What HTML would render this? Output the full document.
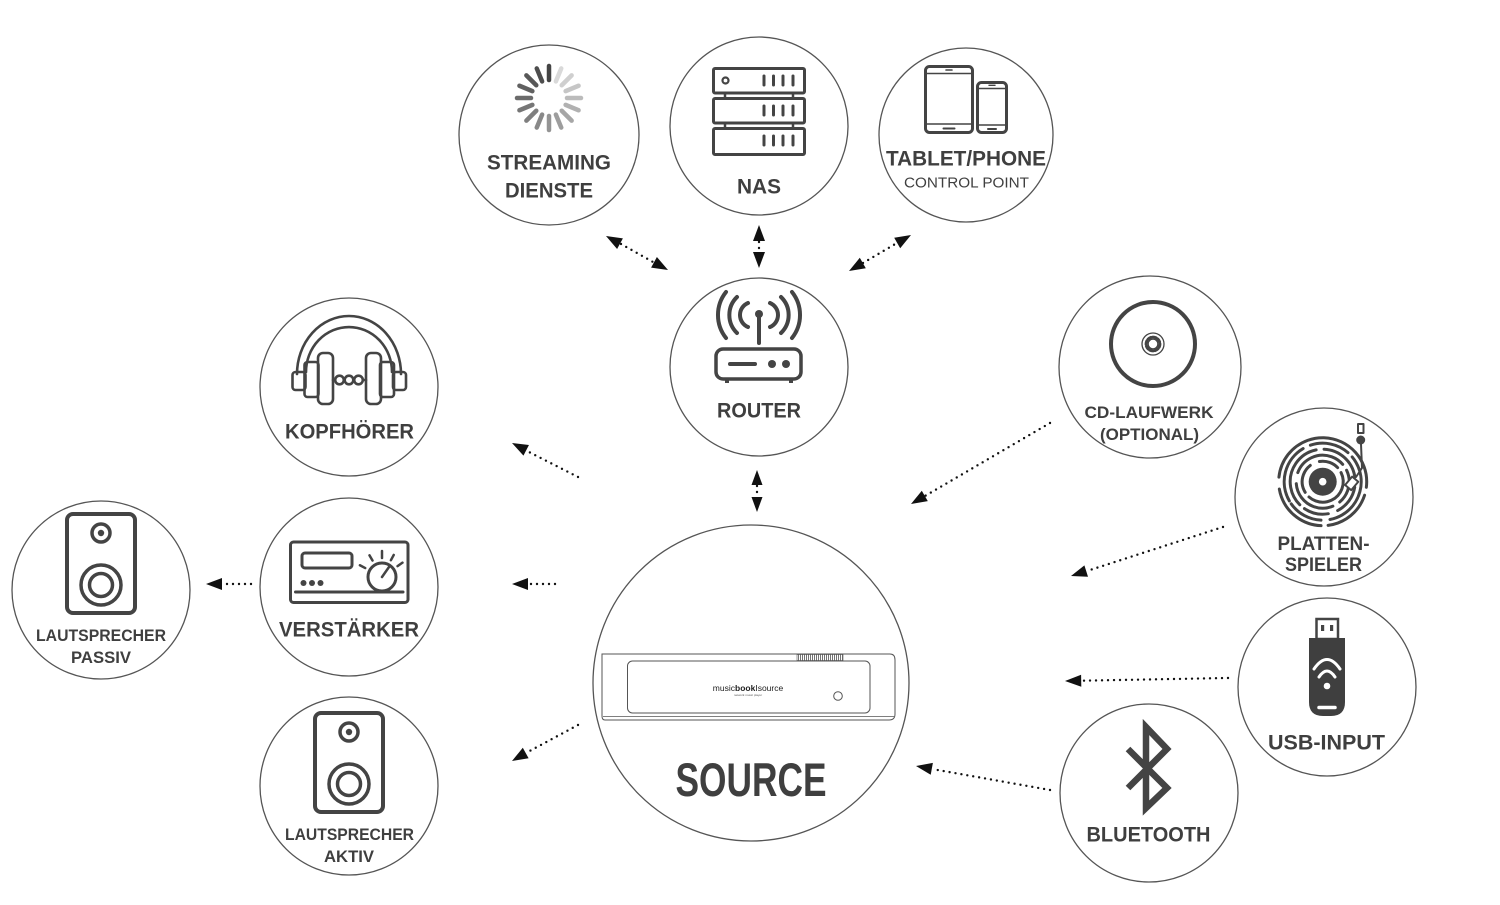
<!DOCTYPE html>
<html>
<head>
<meta charset="utf-8">
<style>
  html,body{margin:0;padding:0;background:#fff;}
  body{width:1500px;height:905px;overflow:hidden;}
  svg{display:block;}
  .lbl{font-family:"Liberation Sans",Arial,sans-serif;font-weight:bold;fill:#3f3f3f;text-anchor:middle;}
  .reg{font-family:"Liberation Sans",Arial,sans-serif;font-weight:normal;fill:#3f3f3f;text-anchor:middle;}
  .ring{fill:none;stroke:#555;stroke-width:1.3;}
  .ic{fill:none;stroke:#444;stroke-linecap:round;stroke-linejoin:round;}
  .dot{fill:none;stroke:#111;stroke-width:2.4;stroke-dasharray:0 6;stroke-linecap:round;}
  .ah{fill:#111;}
</style>
</head>
<body>
<svg width="1500" height="905" viewBox="0 0 1500 905" xmlns="http://www.w3.org/2000/svg">
  <defs>
    <pattern id="grille" width="2" height="8" patternUnits="userSpaceOnUse">
      <rect x="0" y="0" width="0.9" height="8" fill="#666"/>
    </pattern>
  </defs>

  <!-- ===== RINGS ===== -->
  <circle class="ring" cx="549" cy="135" r="90"/>
  <circle class="ring" cx="759" cy="126" r="89"/>
  <circle class="ring" cx="966" cy="135" r="87"/>
  <circle class="ring" cx="759" cy="367" r="89"/>
  <circle class="ring" cx="349" cy="387" r="89"/>
  <circle class="ring" cx="349" cy="587" r="89"/>
  <circle class="ring" cx="101" cy="590" r="89"/>
  <circle class="ring" cx="349" cy="786" r="89"/>
  <circle class="ring" cx="751" cy="683" r="158"/>
  <circle class="ring" cx="1150" cy="367" r="91"/>
  <circle class="ring" cx="1324" cy="497" r="89"/>
  <circle class="ring" cx="1327" cy="687" r="89"/>
  <circle class="ring" cx="1149" cy="793" r="89"/>

  <!-- ===== STREAMING spinner ===== -->
  <g transform="translate(549,98)" stroke="#444" stroke-width="4.5" stroke-linecap="round">
    <line x1="0" y1="-18" x2="0" y2="-32" transform="rotate(0)" opacity="1"/>
    <line x1="0" y1="-18" x2="0" y2="-32" transform="rotate(22.5)" opacity="0.2"/>
    <line x1="0" y1="-18" x2="0" y2="-32" transform="rotate(45)" opacity="0.25"/>
    <line x1="0" y1="-18" x2="0" y2="-32" transform="rotate(67.5)" opacity="0.3"/>
    <line x1="0" y1="-18" x2="0" y2="-32" transform="rotate(90)" opacity="0.36"/>
    <line x1="0" y1="-18" x2="0" y2="-32" transform="rotate(112.5)" opacity="0.41"/>
    <line x1="0" y1="-18" x2="0" y2="-32" transform="rotate(135)" opacity="0.47"/>
    <line x1="0" y1="-18" x2="0" y2="-32" transform="rotate(157.5)" opacity="0.52"/>
    <line x1="0" y1="-18" x2="0" y2="-32" transform="rotate(180)" opacity="0.57"/>
    <line x1="0" y1="-18" x2="0" y2="-32" transform="rotate(202.5)" opacity="0.63"/>
    <line x1="0" y1="-18" x2="0" y2="-32" transform="rotate(225)" opacity="0.68"/>
    <line x1="0" y1="-18" x2="0" y2="-32" transform="rotate(247.5)" opacity="0.73"/>
    <line x1="0" y1="-18" x2="0" y2="-32" transform="rotate(270)" opacity="0.79"/>
    <line x1="0" y1="-18" x2="0" y2="-32" transform="rotate(292.5)" opacity="0.84"/>
    <line x1="0" y1="-18" x2="0" y2="-32" transform="rotate(315)" opacity="0.89"/>
    <line x1="0" y1="-18" x2="0" y2="-32" transform="rotate(337.5)" opacity="0.95"/>
  </g>
  <text class="lbl" x="549" y="169.5" font-size="21" textLength="124" lengthAdjust="spacingAndGlyphs">STREAMING</text>
  <text class="lbl" x="549" y="197.5" font-size="21" textLength="88" lengthAdjust="spacingAndGlyphs">DIENSTE</text>

  <!-- ===== NAS ===== -->
  <g class="ic" stroke-width="3">
    <rect x="713.5" y="68.5" width="91" height="24.5" rx="1.5"/>
    <rect x="713.5" y="98.5" width="91" height="24.5" rx="1.5"/>
    <rect x="713.5" y="128.5" width="91" height="26" rx="1.5"/>
    <line x1="725" y1="93" x2="725" y2="98" stroke-width="2.5"/>
    <line x1="793" y1="93" x2="793" y2="98" stroke-width="2.5"/>
    <line x1="725" y1="123" x2="725" y2="128" stroke-width="2.5"/>
    <line x1="793" y1="123" x2="793" y2="128" stroke-width="2.5"/>
    <circle cx="725.5" cy="80.5" r="3" stroke-width="2.2"/>
    <line x1="764" y1="76" x2="764" y2="85"/><line x1="773.5" y1="76" x2="773.5" y2="85"/>
    <line x1="783" y1="76" x2="783" y2="85"/><line x1="793" y1="76" x2="793" y2="85"/>
    <line x1="764" y1="106" x2="764" y2="115"/><line x1="773.5" y1="106" x2="773.5" y2="115"/>
    <line x1="783" y1="106" x2="783" y2="115"/><line x1="793" y1="106" x2="793" y2="115"/>
    <line x1="764" y1="136" x2="764" y2="145"/><line x1="773.5" y1="136" x2="773.5" y2="145"/>
    <line x1="783" y1="136" x2="783" y2="145"/><line x1="793" y1="136" x2="793" y2="145"/>
  </g>
  <text class="lbl" x="759" y="193.5" font-size="21" textLength="44" lengthAdjust="spacingAndGlyphs">NAS</text>

  <!-- ===== TABLET/PHONE ===== -->
  <g class="ic" stroke-width="3">
    <rect x="925.5" y="66.5" width="47" height="66" rx="4"/>
    <line x1="927" y1="73.5" x2="971" y2="73.5" stroke-width="1.4"/>
    <line x1="927" y1="124" x2="971" y2="124" stroke-width="1.4"/>
    <line x1="946" y1="70" x2="952" y2="70" stroke-width="1.6"/>
    <line x1="943.5" y1="128.5" x2="954.5" y2="128.5" stroke-width="2"/>
    <rect x="977.5" y="82.5" width="29" height="50" rx="4"/>
    <line x1="979" y1="88.5" x2="1005" y2="88.5" stroke-width="1.4"/>
    <line x1="979" y1="125" x2="1005" y2="125" stroke-width="1.4"/>
    <line x1="989" y1="85.3" x2="995" y2="85.3" stroke-width="1.4"/>
    <line x1="988" y1="129" x2="996" y2="129" stroke-width="2"/>
  </g>
  <text class="lbl" x="966" y="165.5" font-size="21" textLength="160" lengthAdjust="spacingAndGlyphs">TABLET/PHONE</text>
  <text class="reg" x="966.5" y="187.5" font-size="15" textLength="125" lengthAdjust="spacingAndGlyphs">CONTROL POINT</text>

  <!-- ===== ROUTER ===== -->
  <g class="ic" stroke-width="4">
    <circle cx="759" cy="314" r="4" fill="#444" stroke="none"/>
    <line x1="759" y1="316" x2="759" y2="343"/>
    <path d="M748,303 A13,13 0 0,0 748,327"/>
    <path d="M770,303 A13,13 0 0,1 770,327"/>
    <path d="M737,297 A25,25 0 0,0 737,333"/>
    <path d="M781,297 A25,25 0 0,1 781,333"/>
    <path d="M726,292 A37,37 0 0,0 726,338"/>
    <path d="M792,292 A37,37 0 0,1 792,338"/>
    <rect x="716" y="349" width="85" height="30" rx="7" stroke-width="3.5"/>
    <line x1="730" y1="364" x2="755" y2="364"/>
    <circle cx="772" cy="364" r="4" fill="#444" stroke="none"/>
    <circle cx="786" cy="364" r="4" fill="#444" stroke="none"/>
    <rect x="725" y="379" width="4" height="4" fill="#444" stroke="none"/>
    <rect x="789" y="379" width="4" height="4" fill="#444" stroke="none"/>
  </g>
  <text class="lbl" x="759" y="417.5" font-size="21" textLength="84" lengthAdjust="spacingAndGlyphs">ROUTER</text>

  <!-- ===== KOPFHÖRER ===== -->
  <g class="ic" stroke-width="2.6" fill="#fff">
    <path d="M297,374 A52,58 0 0,1 401,374" fill="none"/>
    <path d="M306,372 A43,45 0 0,1 392,372" fill="none"/>
    <rect x="292.5" y="372" width="13" height="18" rx="3"/>
    <rect x="304.5" y="362" width="14" height="35" rx="3"/>
    <rect x="318" y="353" width="15" height="51" rx="5"/>
    <rect x="393" y="372" width="13" height="18" rx="3"/>
    <rect x="380" y="362" width="14" height="35" rx="3"/>
    <rect x="366" y="353" width="15" height="51" rx="5"/>
    <line x1="333" y1="380" x2="335" y2="380"/>
    <line x1="363" y1="380" x2="366" y2="380"/>
    <circle cx="339.5" cy="380" r="4.3"/>
    <circle cx="349" cy="380" r="4.3"/>
    <circle cx="358.5" cy="380" r="4.3"/>
  </g>
  <text class="lbl" x="349.5" y="438.5" font-size="21" textLength="129" lengthAdjust="spacingAndGlyphs">KOPFHÖRER</text>

  <!-- ===== VERSTÄRKER ===== -->
  <g class="ic" stroke-width="3">
    <rect x="290.5" y="542" width="117.5" height="60.5" rx="3"/>
    <rect x="302" y="553" width="50" height="15" rx="3"/>
    <circle cx="303.5" cy="583" r="3" fill="#444" stroke="none"/>
    <circle cx="312" cy="583" r="3" fill="#444" stroke="none"/>
    <circle cx="320.5" cy="583" r="3" fill="#444" stroke="none"/>
    <line x1="295.5" y1="592" x2="403" y2="592"/>
    <circle cx="382" cy="577" r="14"/>
    <line x1="382" y1="577" x2="389" y2="567" stroke-width="2.5"/>
    <g transform="translate(382,577)" stroke-width="2.5">
      <line x1="0" y1="-19" x2="0" y2="-25" transform="rotate(-62)"/>
      <line x1="0" y1="-19" x2="0" y2="-25" transform="rotate(-30)"/>
      <line x1="0" y1="-19" x2="0" y2="-26" transform="rotate(0)"/>
      <line x1="0" y1="-19" x2="0" y2="-25" transform="rotate(28)"/>
      <line x1="0" y1="-19" x2="0" y2="-25" transform="rotate(55)"/>
    </g>
  </g>
  <text class="lbl" x="349" y="636.5" font-size="21" textLength="140" lengthAdjust="spacingAndGlyphs">VERSTÄRKER</text>

  <!-- ===== LAUTSPRECHER PASSIV ===== -->
  <g class="ic" stroke-width="4">
    <rect x="67" y="514" width="68" height="99" rx="6"/>
    <circle cx="101" cy="533" r="9" stroke-width="3.5"/>
    <circle cx="101" cy="533" r="3.2" fill="#444" stroke="none"/>
    <circle cx="101" cy="585" r="20" stroke-width="3.5"/>
    <circle cx="101" cy="585" r="11.5" stroke-width="3.5"/>
  </g>
  <text class="lbl" x="101" y="641" font-size="17" textLength="130" lengthAdjust="spacingAndGlyphs">LAUTSPRECHER</text>
  <text class="lbl" x="101" y="663" font-size="17" textLength="60" lengthAdjust="spacingAndGlyphs">PASSIV</text>

  <!-- ===== LAUTSPRECHER AKTIV ===== -->
  <g class="ic" stroke-width="4">
    <rect x="315" y="713" width="68" height="99" rx="6"/>
    <circle cx="349" cy="732" r="9" stroke-width="3.5"/>
    <circle cx="349" cy="732" r="3.2" fill="#444" stroke="none"/>
    <circle cx="349" cy="784" r="20" stroke-width="3.5"/>
    <circle cx="349" cy="784" r="11.5" stroke-width="3.5"/>
  </g>
  <text class="lbl" x="349.5" y="840" font-size="17" textLength="129" lengthAdjust="spacingAndGlyphs">LAUTSPRECHER</text>
  <text class="lbl" x="349" y="862" font-size="17" textLength="50" lengthAdjust="spacingAndGlyphs">AKTIV</text>

  <!-- ===== SOURCE device ===== -->
  <g fill="none" stroke="#555" stroke-width="1">
    <path d="M602,654 L890,654 Q895,654 895,660 L895,714 Q895,720 889,720 L605,720 Q602,720 602,716 Z"/>
    <line x1="603" y1="716.5" x2="894" y2="716.5" stroke-width="0.7"/>
    <rect x="627.5" y="661" width="242.5" height="52" rx="5"/>
    <rect x="797" y="654.5" width="46" height="6" fill="url(#grille)" stroke-width="0.6"/>
    <circle cx="838" cy="696" r="4.3"/>
  </g>
  <text x="748" y="691" font-family="Liberation Sans, Arial, sans-serif" font-size="8.5" fill="#222" text-anchor="middle">music<tspan font-weight="bold">book</tspan>I<tspan>source</tspan></text>
  <text x="748" y="696" font-family="Liberation Sans, Arial, sans-serif" font-size="3" fill="#555" text-anchor="middle">network music player</text>
  <text class="lbl" x="751" y="796" font-size="47" textLength="151" lengthAdjust="spacingAndGlyphs">SOURCE</text>

  <!-- ===== CD-LAUFWERK ===== -->
  <g class="ic">
    <circle cx="1153" cy="344" r="42" stroke-width="4"/>
    <circle cx="1153" cy="344" r="11" stroke-width="1.3"/>
    <circle cx="1153" cy="344" r="6.8" stroke-width="3.2" stroke-dasharray="3.2 2.1"/>
    <circle cx="1153" cy="344" r="4.8" stroke-width="1.2"/>
  </g>
  <text class="lbl" x="1149" y="418" font-size="17" textLength="129" lengthAdjust="spacingAndGlyphs">CD-LAUFWERK</text>
  <text class="lbl" x="1149.5" y="440" font-size="17" textLength="99" lengthAdjust="spacingAndGlyphs">(OPTIONAL)</text>

  <!-- ===== PLATTENSPIELER ===== -->
  <g class="ic" stroke-width="3" stroke-linecap="butt">
    <circle cx="1322.7" cy="481.7" r="14" fill="#444" stroke="none"/>
    <circle cx="1322.7" cy="481.7" r="3.8" fill="#fff" stroke="none"/>
    <circle cx="1322.7" cy="481.7" r="20.5" stroke-dasharray="40 6 30 10 20 6" transform="rotate(20 1322.7 481.7)"/>
    <circle cx="1322.7" cy="481.7" r="26.5" stroke-dasharray="55 7 35 8 50 12" transform="rotate(200 1322.7 481.7)"/>
    <circle cx="1322.7" cy="481.7" r="32.5" stroke-dasharray="25 6 70 8 45 10 30 10" transform="rotate(80 1322.7 481.7)"/>
    <circle cx="1322.7" cy="481.7" r="38.5" stroke-dasharray="60 8 40 6 80 9 35 10" transform="rotate(150 1322.7 481.7)"/>
    <circle cx="1322.7" cy="481.7" r="44" stroke-dasharray="90 8 50 7 60 12" transform="rotate(250 1322.7 481.7)"/>
  </g>
  <g class="ic" stroke-width="2">
    <rect x="1358" y="424" width="5.5" height="9" fill="#fff"/>
    <circle cx="1360.7" cy="440" r="4.5" fill="#444" stroke="none"/>
    <path d="M1361,444 L1362,468 L1356,477"/>
    <rect x="1348" y="478" width="8" height="11" transform="rotate(40 1352 483)" fill="#fff"/>
  </g>
  <text class="lbl" x="1323.5" y="550" font-size="19" textLength="92" lengthAdjust="spacingAndGlyphs">PLATTEN-</text>
  <text class="lbl" x="1323.5" y="571" font-size="19" textLength="77" lengthAdjust="spacingAndGlyphs">SPIELER</text>

  <!-- ===== USB ===== -->
  <g>
    <rect x="1316.5" y="619" width="21.5" height="20" fill="#fff" stroke="#444" stroke-width="2.5"/>
    <rect x="1321" y="625" width="3.2" height="6" fill="#444"/>
    <rect x="1330" y="625" width="3.2" height="6" fill="#444"/>
    <path d="M1309,638 H1345 V702 Q1345,716 1331,716 H1323 Q1309,716 1309,702 Z" fill="#3f3f3f"/>
    <path d="M1314,669 Q1327,650 1340,669" fill="none" stroke="#fff" stroke-width="3" stroke-linecap="round"/>
    <path d="M1319,677 Q1327,665 1335,677" fill="none" stroke="#fff" stroke-width="3" stroke-linecap="round"/>
    <circle cx="1327" cy="686" r="3.3" fill="#fff"/>
    <line x1="1319" y1="707.5" x2="1335" y2="707.5" stroke="#fff" stroke-width="3.5" stroke-linecap="round"/>
  </g>
  <text class="lbl" x="1326.5" y="749.5" font-size="21" textLength="117" lengthAdjust="spacingAndGlyphs">USB-INPUT</text>

  <!-- ===== BLUETOOTH ===== -->
  <path d="M1128,749 L1167,788 L1146,808 L1146,727 L1167,749 L1128,788" fill="none" stroke="#444" stroke-width="6.5" stroke-linejoin="miter" stroke-miterlimit="6"/>
  <text class="lbl" x="1148.5" y="841.5" font-size="21" textLength="124" lengthAdjust="spacingAndGlyphs">BLUETOOTH</text>

  <!-- ===== CONNECTORS ===== -->
  <line class="dot" x1="621" y1="244" x2="653" y2="262"/>
  <polygon class="ah" points="668,270 651.1,267.6 656.9,257.0"/>
  <polygon class="ah" points="606,236 617.1,249.0 622.9,238.4"/>
  <line class="dot" x1="759" y1="242" x2="759" y2="251"/>
  <polygon class="ah" points="759,225 753,241 765,241"/>
  <polygon class="ah" points="759,268 753,252 765,252"/>
  <line class="dot" x1="863" y1="263" x2="897" y2="243"/>
  <polygon class="ah" points="849,271 859.8,257.8 865.8,268.2"/>
  <polygon class="ah" points="911,235 894.2,237.8 900.2,248.2"/>
  <line class="dot" x1="757" y1="486" x2="757" y2="496"/>
  <polygon class="ah" points="757,470 751.5,485 762.5,485"/>
  <polygon class="ah" points="757,512 751.5,497 762.5,497"/>
  <line class="dot" x1="578" y1="477" x2="527" y2="451"/>
  <polygon class="ah" points="512,443 528.95,444.97 523.45,455.63"/>
  <line class="dot" x1="555" y1="584" x2="528" y2="584"/>
  <polygon class="ah" points="512,584 528,578 528,590"/>
  <line class="dot" x1="251" y1="584" x2="222" y2="584"/>
  <polygon class="ah" points="206,584 222,578 222,590"/>
  <line class="dot" x1="578" y1="725" x2="526" y2="753"/>
  <polygon class="ah" points="512,761 522.8,747.7 528.6,758.3"/>
  <line class="dot" x1="1050" y1="423" x2="925" y2="496"/>
  <polygon class="ah" points="911,504 921.8,490.8 927.8,501.1"/>
  <line class="dot" x1="1223" y1="527" x2="1087" y2="571"/>
  <polygon class="ah" points="1071,576 1084.4,565.4 1088.0,576.8"/>
  <line class="dot" x1="1228" y1="678" x2="1082" y2="680.7"/>
  <polygon class="ah" points="1065,681 1081.1,674.7 1081.3,686.7"/>
  <line class="dot" x1="1050" y1="790" x2="932" y2="769"/>
  <polygon class="ah" points="916,766 932.9,762.9 930.7,774.7"/>
</svg>
</body>
</html>
